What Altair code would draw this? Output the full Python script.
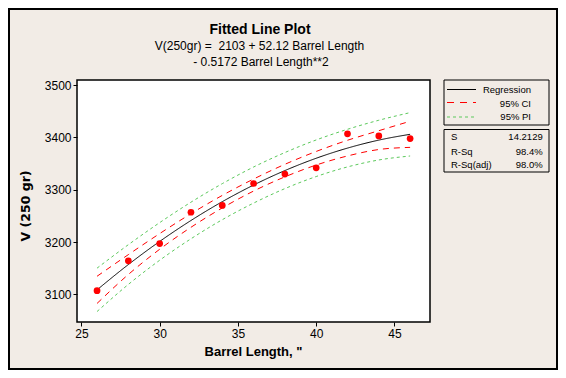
import altair as alt
import pandas as pd

# ---- data ----
barrel_length = [26, 28, 30, 32, 34, 36, 38, 40, 42, 44, 46]
velocity = [3107, 3164, 3197, 3257, 3270, 3312, 3330, 3342, 3407, 3403, 3398]
fitted = [3108.5, 3156.9, 3201.1, 3241.2, 3277.2, 3309.0, 3336.7, 3360.3, 3379.7, 3395.0, 3406.1]
ci_upper = [3134.5, 3175.9, 3216.1, 3254.2, 3289.2, 3320.5, 3348.7, 3373.3, 3394.7, 3413.0, 3431.1]
ci_lower = [3082.5, 3137.9, 3186.1, 3228.2, 3265.2, 3297.5, 3324.7, 3347.3, 3364.7, 3377.0, 3381.1]
pi_upper = [3150.0, 3194.9, 3237.1, 3276.2, 3311.7, 3343.5, 3371.2, 3395.3, 3415.7, 3433.0, 3447.6]
pi_lower = [3067.0, 3118.9, 3165.1, 3206.2, 3242.7, 3274.5, 3302.2, 3325.3, 3343.7, 3357.0, 3364.6]

x_ticks = [25, 30, 35, 40, 45]
y_ticks = [3100, 3200, 3300, 3400, 3500]

title = "Fitted Line Plot"
subtitle_1 = "V(250gr) = \u00a02103 + 52.12 Barrel Length"
subtitle_2 = "- 0.5172 Barrel Length**2"
legend_labels = ["Regression", "95% CI", "95% PI"]
stat_names = ["S", "R-Sq", "R-Sq(adj)"]
stat_values = ["14.2129", "98.4%", "98.0%"]

df = pd.DataFrame({
    "x": barrel_length, "v": velocity, "fit": fitted,
    "ci_hi": ci_upper, "ci_lo": ci_lower, "pi_hi": pi_upper, "pi_lo": pi_lower,
})
one = pd.DataFrame({"a": [0]})

FONT = "Liberation Sans"
W, H = 353, 242
PAD_L, PAD_T = 69, 72
TOT_W, TOT_H = 550, 362

xs = alt.Scale(domain=[24.72, 47.27], nice=False, zero=False)
ys = alt.Scale(domain=[3047, 3510], nice=False, zero=False)

X = alt.X("x:Q", scale=xs, axis=alt.Axis(values=x_ticks, title=None, format="d"))
base = alt.Chart(df)


def band(field, color, dash):
    return base.mark_line(color=color, strokeWidth=1, strokeDash=dash, interpolate="monotone").encode(
        x=X, y=alt.Y(f"{field}:Q", scale=ys, axis=alt.Axis(values=y_ticks, title=None, format="d"))
    )


GREEN = "#5cc95c"
RED = "#ff0000"

pi_hi_l = band("pi_hi", GREEN, [3, 3])
pi_lo_l = band("pi_lo", GREEN, [3, 3])
ci_hi_l = band("ci_hi", RED, [6, 5])
ci_lo_l = band("ci_lo", RED, [6, 5])
fit_l = band("fit", "black", [1, 0])
pts = base.mark_circle(color=RED, opacity=1, size=45).encode(x=X, y=alt.Y("v:Q", scale=ys))


def txt(s, x, y, size, bold=False, align="center", angle=0, font=FONT):
    return alt.Chart(one).mark_text(
        text=s, fontSize=size, font=font, fontWeight="bold" if bold else "normal",
        align=align, baseline="alphabetic", angle=angle, color="black",
    ).encode(x=alt.value(x), y=alt.value(y))


def box(x1, x2, y1, y2, width=1):
    return alt.Chart(one).mark_rect(fill=None, fillOpacity=0, stroke="black", strokeWidth=width).encode(
        x=alt.value(x1), x2=alt.value(x2), y=alt.value(y1), y2=alt.value(y2)
    )


def rule(x1, x2, y, color, dash):
    return alt.Chart(one).mark_rule(color=color, strokeWidth=1, strokeDash=dash).encode(
        x=alt.value(x1), x2=alt.value(x2), y=alt.value(y)
    )


decor = [
    # outer frame
    box(-PAD_L + 1, TOT_W - PAD_L - 1, -PAD_T + 1, TOT_H - PAD_T - 1, 2),
    # titles
    txt(title, 183, -46.5, 14, bold=True),
    txt(subtitle_1, 182.5, -30.5, 12),
    txt(subtitle_2, 184, -14, 12),
    # axis titles
    txt('Barrel Length, "', 176.5, H + 34, 13, bold=True),
    alt.Chart(one).mark_text(
        text="V (250 gr)", fontSize=12.5, font="DejaVu Sans", fontWeight="bold",
        align="center", baseline="middle", angle=270, color="black",
    ).encode(x=alt.value(-51), y=alt.value(126)),
    # legend box
    box(367, 472, 0, 45),
    rule(370, 399, 9.5, "black", [1, 0]),
    rule(370, 399, 22.5, RED, [7, 6]),
    rule(370, 399, 37, GREEN, [3, 3]),
    txt(legend_labels[0], 454, 13.3, 9.5, align="right"),
    txt(legend_labels[1], 454, 27, 9.5, align="right"),
    txt(legend_labels[2], 454, 40, 9.5, align="right"),
    # stats box
    box(367, 472, 49.5, 92),
    txt(stat_names[0], 374, 60.3, 9.5, align="left"),
    txt(stat_names[1], 374, 74.7, 9.5, align="left"),
    txt(stat_names[2], 374, 88.3, 9.5, align="left"),
    txt(stat_values[0], 465.7, 60.3, 9.5, align="right"),
    txt(stat_values[1], 465.7, 74.7, 9.5, align="right"),
    txt(stat_values[2], 465.7, 88.3, 9.5, align="right"),
]

chart = alt.layer(pi_hi_l, pi_lo_l, ci_hi_l, ci_lo_l, fit_l, pts, *decor).properties(
    width=W, height=H,
    autosize=alt.AutoSizeParams(type="none"),
    padding={"left": PAD_L, "top": PAD_T, "right": TOT_W - PAD_L - W, "bottom": TOT_H - PAD_T - H},
    background="#f2ece6",
).configure_view(
    fill="white", stroke="black", strokeWidth=1.5
).configure_axis(
    domain=False, grid=False, ticks=True, tickColor="black", tickSize=4, tickWidth=1,
    labelFont=FONT, labelFontSize=12, labelColor="black", labelPadding=2,
)

chart.save("out.html", embed_options={"renderer": "svg", "actions": False})
